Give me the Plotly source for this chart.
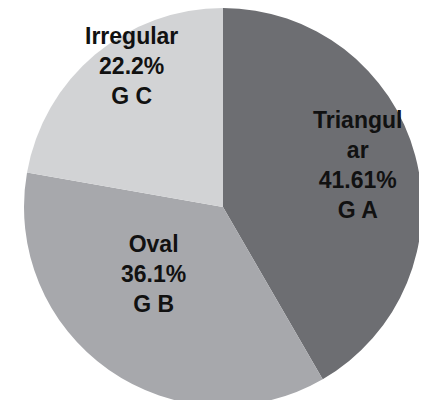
import plotly.graph_objects as go

labels = ["Triangular", "Oval", "Irregular"]
label_text = ["Triangul<br>ar", "Oval", "Irregular"]
values = [41.61, 36.1, 22.2]
groups = ["G A", "G B", "G C"]
colors = ["#6d6e72", "#a7a8ac", "#d2d3d5"]

W, H = 427, 400
OFF = 8  # page body margin offset

fig = go.Figure(go.Pie(
    labels=labels,
    values=values,
    sort=False,
    direction="clockwise",
    rotation=0,
    marker=dict(colors=colors, line=dict(width=0)),
    textinfo="none",
    hoverinfo="label+percent",
    domain=dict(x=[16 / W, 414 / W], y=[2 / H, 1]),
    showlegend=False,
))

# label centres (pixel positions as seen on the page)
label_pos = [(357, 165), (153, 274), (131, 66)]
for lt, v, g, (px, py) in zip(label_text, values, groups, label_pos):
    fig.add_annotation(
        x=(px - OFF) / W, y=1 - (py - OFF) / H, xref="paper", yref="paper",
        text=f"{lt}<br>{v}%<br>{g}",
        showarrow=False,
        font=dict(family="Liberation Sans, Arial, sans-serif", size=23, color="#111111", weight="bold"),
        align="center", xanchor="center", yanchor="middle",
    )

fig.update_layout(
    width=W, height=H,
    margin=dict(l=0, r=0, t=0, b=0),
    paper_bgcolor="white",
    plot_bgcolor="white",
)

fig.write_html("out.html")
